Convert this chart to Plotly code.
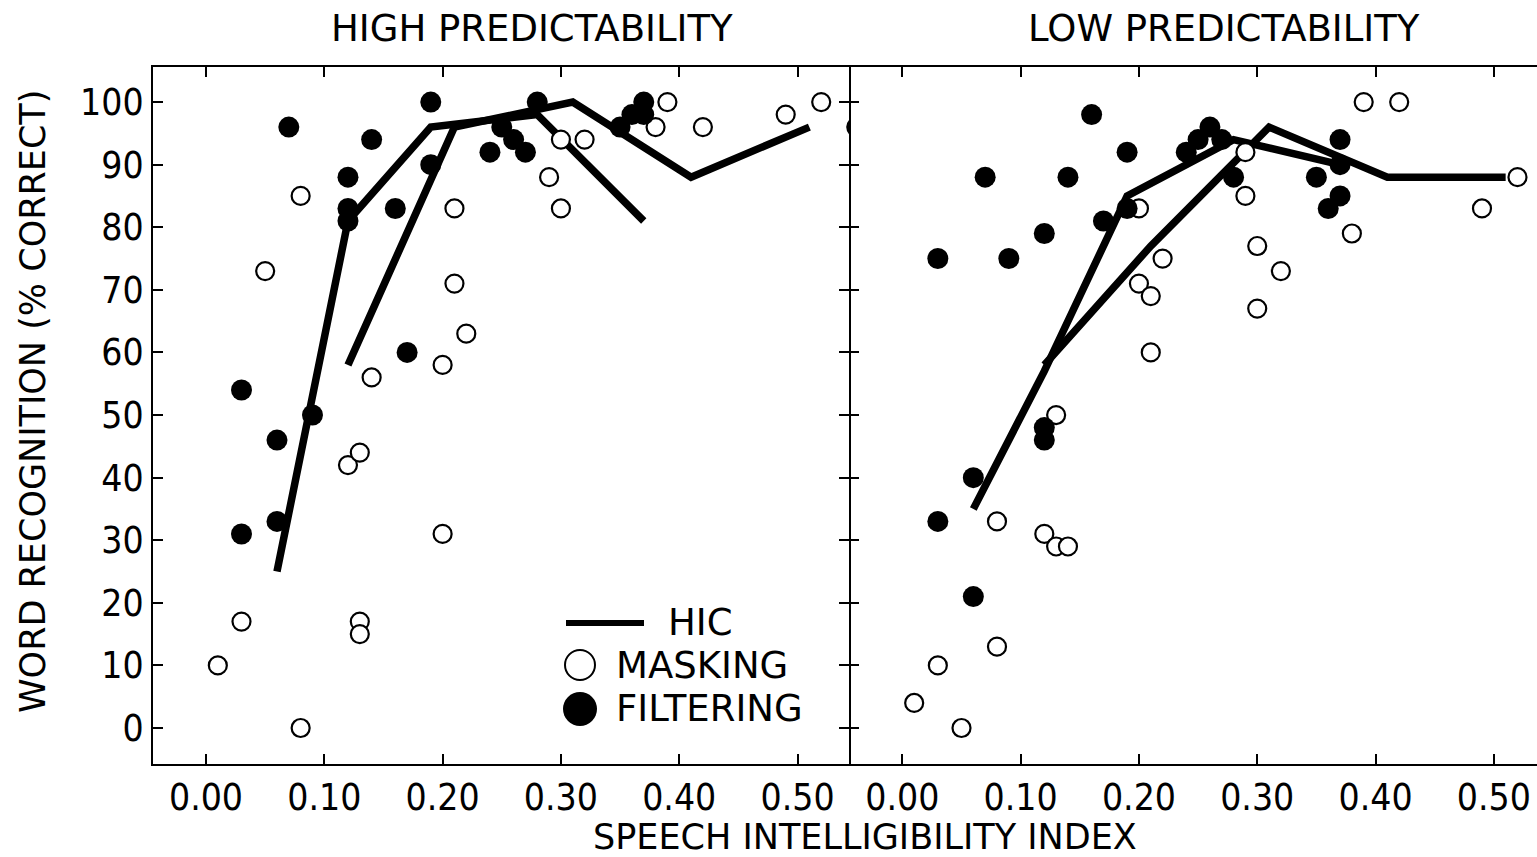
import plotly.graph_objects as go

# ---------------- data ----------------
left_mask_x = [0.01, 0.03, 0.05, 0.08, 0.08, 0.12, 0.13, 0.13, 0.13, 0.14, 0.20, 0.20,
               0.21, 0.21, 0.22, 0.29, 0.30, 0.30, 0.32, 0.38, 0.39, 0.42, 0.49, 0.52]
left_mask_y = [10, 17, 73, 85, 0, 42, 44, 17, 15, 56, 58, 31,
               83, 71, 63, 88, 94, 83, 94, 96, 100, 96, 98, 100]

left_filt_x = [0.03, 0.03, 0.06, 0.06, 0.07, 0.09, 0.12, 0.12, 0.12, 0.14, 0.16, 0.17,
               0.19, 0.19, 0.24, 0.25, 0.26, 0.27, 0.28, 0.35, 0.36, 0.37, 0.37, 0.55]
left_filt_y = [54, 31, 46, 33, 96, 50, 88, 83, 81, 94, 83, 60,
               100, 90, 92, 96, 94, 92, 100, 96, 98, 100, 98, 96]

right_mask_x = [0.01, 0.03, 0.05, 0.08, 0.08, 0.12, 0.13, 0.13, 0.14, 0.20, 0.20, 0.21,
                0.21, 0.22, 0.29, 0.29, 0.30, 0.30, 0.32, 0.38, 0.39, 0.42, 0.49, 0.52]
right_mask_y = [4, 10, 0, 33, 13, 31, 50, 29, 29, 83, 71, 69,
                60, 75, 92, 85, 77, 67, 73, 79, 100, 100, 83, 88]

right_filt_x = [0.03, 0.03, 0.06, 0.06, 0.07, 0.09, 0.12, 0.12, 0.12, 0.14, 0.16, 0.17,
                0.19, 0.19, 0.24, 0.25, 0.26, 0.27, 0.28, 0.35, 0.36, 0.37, 0.37, 0.37]
right_filt_y = [75, 33, 40, 21, 88, 75, 79, 48, 46, 88, 98, 81,
                92, 83, 92, 94, 96, 94, 88, 88, 83, 94, 90, 85]

left_hic1_x = [0.06, 0.12, 0.19, 0.28, 0.37]
left_hic1_y = [25, 81, 96, 98, 81]
left_hic2_x = [0.12, 0.21, 0.31, 0.41, 0.51]
left_hic2_y = [58, 96, 100, 88, 96]

right_hic1_x = [0.06, 0.12, 0.19, 0.28, 0.37]
right_hic1_y = [35, 57, 85, 94, 90]
right_hic2_x = [0.12, 0.21, 0.31, 0.41, 0.51]
right_hic2_y = [58, 77, 96, 88, 88]

x_ticks = [0.0, 0.1, 0.2, 0.3, 0.4, 0.5]
y_ticks = [0, 10, 20, 30, 40, 50, 60, 70, 80, 90, 100]

panel_titles = ["HIGH PREDICTABILITY", "LOW PREDICTABILITY"]
x_title = "SPEECH INTELLIGIBILITY INDEX"
y_title = "WORD RECOGNITION (% CORRECT)"
legend_labels = ["HIC", "MASKING", "FILTERING"]

# ---------------- layout geometry ----------------
W, H = 1537, 857
L, R, T, B = 153, 0, 67, 93
PW, PH = W - L - R, H - T - B
split = 696 / PW

def px(xp):
    return (xp - L) / PW

def py(yp):
    return (H - B - yp) / PH

FONT = "DejaVu Sans"
FONT_C = "DejaVu Sans Condensed, DejaVu Sans"

fig = go.Figure()

panels = [
    ("x", "y", left_mask_x, left_mask_y, left_filt_x, left_filt_y,
     [(left_hic1_x, left_hic1_y), (left_hic2_x, left_hic2_y)]),
    ("x2", "y2", right_mask_x, right_mask_y, right_filt_x, right_filt_y,
     [(right_hic1_x, right_hic1_y), (right_hic2_x, right_hic2_y)]),
]

for xa, ya, mx, my, fx, fy, lines in panels:
    for lx, ly in lines:
        fig.add_trace(go.Scatter(x=lx, y=ly, xaxis=xa, yaxis=ya, mode="lines",
                                 line=dict(color="black", width=7.5),
                                 showlegend=False, hoverinfo="skip"))
    fig.add_trace(go.Scatter(x=mx, y=my, xaxis=xa, yaxis=ya, mode="markers",
                             marker=dict(symbol="circle", size=18, color="white",
                                         line=dict(color="black", width=2.2)),
                             showlegend=False))
    fig.add_trace(go.Scatter(x=fx, y=fy, xaxis=xa, yaxis=ya, mode="markers",
                             marker=dict(symbol="circle", size=21, color="black",
                                         line=dict(width=0)),
                             showlegend=False))

axis_common = dict(showgrid=False, zeroline=False, linecolor="black",
                   linewidth=2, ticks="inside", ticklen=10, tickwidth=2,
                   tickcolor="black")

fig.update_layout(
    width=W, height=H,
    margin=dict(l=L, r=R, t=T, b=B, pad=0),
    paper_bgcolor="white", plot_bgcolor="white",
    showlegend=False,
    xaxis=dict(domain=[0, split], range=[-0.0448, 0.5435], tickvals=x_ticks,
               tickformat=".2f", mirror="ticks", anchor="y", showline=True,
               tickfont=dict(family=FONT_C, size=37, color="black"), **axis_common),
    yaxis=dict(domain=[0, 1], range=[-5.75, 105.6], tickvals=y_ticks,
               mirror="ticks", anchor="x", showline=True,
               tickfont=dict(family=FONT_C, size=37, color="black"), **axis_common),
    xaxis2=dict(domain=[split, 1], range=[-0.0451, 0.5365], tickvals=x_ticks,
                tickformat=".2f", mirror="ticks", anchor="y2", showline=True,
                tickfont=dict(family=FONT_C, size=37, color="black"), **axis_common),
    yaxis2=dict(domain=[0, 1], range=[-5.75, 105.6], tickvals=y_ticks,
                showticklabels=False, mirror=False, anchor="x2", showline=False,
                **axis_common),
)

ann = []
ann.append(dict(text=panel_titles[0], x=px(532), y=py(28), xref="paper", yref="paper",
                showarrow=False, font=dict(family=FONT, size=37, color="black"),
                xanchor="center", yanchor="middle"))
ann.append(dict(text=panel_titles[1], x=px(1224), y=py(28), xref="paper", yref="paper",
                showarrow=False, font=dict(family=FONT, size=37, color="black"),
                xanchor="center", yanchor="middle"))
ann.append(dict(text=x_title, x=px(865), y=py(837), xref="paper", yref="paper",
                showarrow=False, font=dict(family=FONT, size=35, color="black"),
                xanchor="center", yanchor="middle"))
ann.append(dict(text=y_title, x=px(33), y=py(402), xref="paper", yref="paper",
                showarrow=False, textangle=-90, font=dict(family=FONT, size=35, color="black"),
                xanchor="center", yanchor="middle"))
# legend texts
ann.append(dict(text=legend_labels[0], x=px(666), y=py(622), xref="paper", yref="paper",
                showarrow=False, font=dict(family=FONT, size=37, color="black"),
                xanchor="left", yanchor="middle"))
ann.append(dict(text=legend_labels[1], x=px(614), y=py(665), xref="paper", yref="paper",
                showarrow=False, font=dict(family=FONT, size=37, color="black"),
                xanchor="left", yanchor="middle"))
ann.append(dict(text=legend_labels[2], x=px(614), y=py(708), xref="paper", yref="paper",
                showarrow=False, font=dict(family=FONT, size=37, color="black"),
                xanchor="left", yanchor="middle"))
fig.update_layout(annotations=ann)

shapes = []
shapes.append(dict(type="line", xref="paper", yref="paper", x0=px(566), x1=px(644),
                   y0=py(623), y1=py(623), line=dict(color="black", width=6)))
r1 = 15
shapes.append(dict(type="circle", xref="paper", yref="paper",
                   x0=px(580 - r1), x1=px(580 + r1), y0=py(665 + r1), y1=py(665 - r1),
                   line=dict(color="black", width=2), fillcolor="white"))
r2 = 17
shapes.append(dict(type="circle", xref="paper", yref="paper",
                   x0=px(580 - r2), x1=px(580 + r2), y0=py(709 + r2), y1=py(709 - r2),
                   line=dict(color="black", width=0), fillcolor="black"))
fig.update_layout(shapes=shapes)

fig.write_html("out.html", config={"displayModeBar": False},
               post_script="document.body.style.margin='0';document.body.style.overflow='hidden';")
